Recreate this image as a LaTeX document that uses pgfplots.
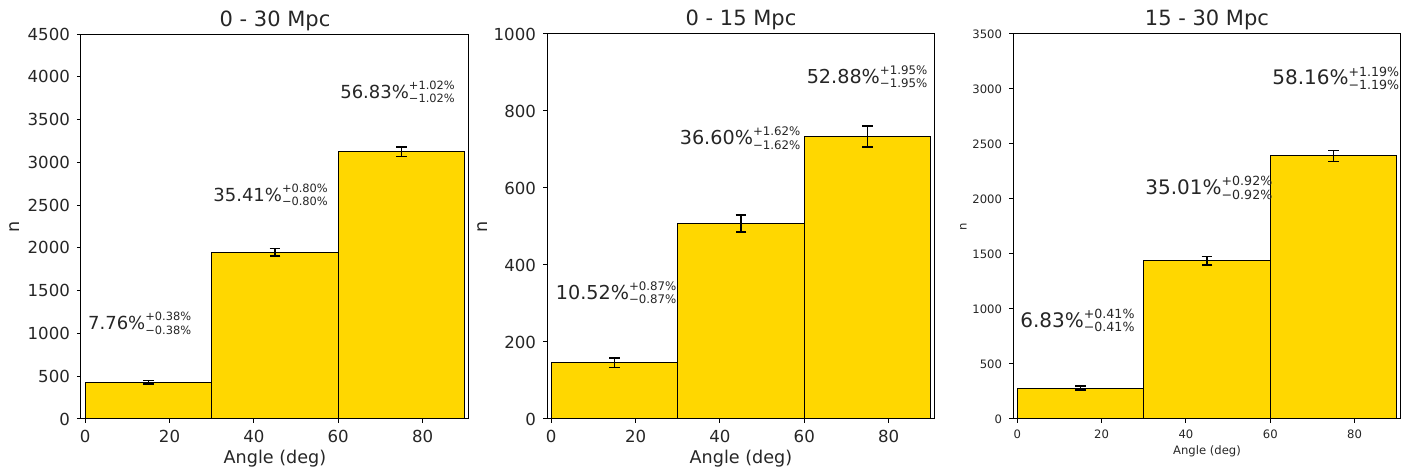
\documentclass[border=0pt]{standalone}
\usepackage{pgfplots}
\pgfplotsset{compat=1.18}
\usepackage{fontspec}
\setmainfont{DejaVu Sans}
\definecolor{gold}{HTML}{FFD700}
\definecolor{txt}{HTML}{262626}
\newcommand{\pct}[4]{{\fontsize{#1}{#1}\selectfont #3\%}\raisebox{1pt}{\fontsize{#2}{6.6}\selectfont\begin{tabular}[c]{@{}l@{}}+#4\%\\−#4\%\end{tabular}}}
\pgfplotsset{
  myax/.style={
    scale only axis, width=194pt, height=192.5pt,
    xmin=-1, xmax=91, ymin=0,
    axis line style={line width=0.5pt, black},
    tick align=outside, xtick pos=bottom, ytick pos=left,
    major tick length=2pt, tick style={line width=0.5pt, black},
    xtick={0,20,40,60,80},
    scaled y ticks=false,
    /pgf/number format/1000 sep={},
    /pgf/number format/assume math mode=true,
    title style={font=\fontsize{10.5}{12}\selectfont, text=txt, at={(0.5,1)}, anchor=base, yshift=-2pt},
    xlabel={Angle (deg)}, ylabel={n},
    every tick label/.append style={text=txt},
    every axis label/.append style={text=txt},
  },
  big/.style={
    tick label style={font=\fontsize{8.3}{9.6}\selectfont},
    label style={font=\fontsize{8.8}{10}\selectfont},
    xlabel style={yshift=3pt},
  },
  small/.style={
    tick label style={font=\fontsize{5.8}{7}\selectfont},
    label style={font=\fontsize{5.8}{7}\selectfont},
    xlabel style={yshift=3.5pt}, ylabel style={yshift=-4pt},
  },
  barst/.style={ybar interval, fill=gold, draw=black, line width=0.5pt},
  errst/.style={draw=none, mark=none, forget plot,
    error bars/.cd, y dir=both, y explicit,
    error bar style={line width=0.75pt, black},
    error mark options={rotate=90, mark size=2.7pt, line width=0.75pt, black}},
}
\begin{document}
\begin{tikzpicture}
\path[use as bounding box] (0,0) rectangle (705pt,235pt);
% Panel 1
\begin{axis}[myax, big, at={(40.5pt,25.5pt)}, anchor=south west,
  ylabel style={yshift=-3pt},
  title={0 - 30 Mpc}, ymax=4500, ytick={0,500,...,4500}]
\addplot[barst] coordinates {(0,427) (30,1947) (60,3125) (90,3125)};
\addplot[errst] coordinates {(15,427) +- (0,20.7) (45,1947) +- (0,44.1) (75,3125) +- (0,55.9)};
\node[anchor=west, inner sep=0, text=txt] at (axis cs:0.6,1101) {\pct{9}{5.7}{7.76}{0.38}};
\node[anchor=west, inner sep=0, text=txt] at (axis cs:30.3,2605) {\pct{9}{5.7}{35.41}{0.80}};
\node[anchor=west, inner sep=0, text=txt] at (axis cs:60.4,3810) {\pct{9}{5.7}{56.83}{1.02}};
\end{axis}
% Panel 2
\begin{axis}[myax, big, at={(273.5pt,25.5pt)}, anchor=south west,
  ylabel style={yshift=-4pt},
  title={0 - 15 Mpc}, ymax=1000, ytick={0,200,...,1000}]
\addplot[barst] coordinates {(0,146) (30,508) (60,734) (90,734)};
\addplot[errst] coordinates {(15,146) +- (0,12.1) (45,508) +- (0,22.5) (75,734) +- (0,27.1)};
\node[anchor=west, inner sep=0, text=txt] at (axis cs:1.0,323) {\pct{9.6}{5.9}{10.52}{0.87}};
\node[anchor=west, inner sep=0, text=txt] at (axis cs:30.4,725) {\pct{9.6}{5.9}{36.60}{1.62}};
\node[anchor=west, inner sep=0, text=txt] at (axis cs:60.5,885) {\pct{9.6}{5.9}{52.88}{1.95}};
\end{axis}
% Panel 3
\begin{axis}[myax, small, at={(506.5pt,25.5pt)}, anchor=south west,
  title={15 - 30 Mpc}, ymax=3500, ytick={0,500,...,3500}]
\addplot[barst] coordinates {(0,281) (30,1439) (60,2391) (90,2391)};
\addplot[errst] coordinates {(15,281) +- (0,16.8) (45,1439) +- (0,37.9) (75,2391) +- (0,48.9)};
\node[anchor=west, inner sep=0, text=txt] at (axis cs:0.65,877) {\pct{10}{6.3}{6.83}{0.41}};
\node[anchor=west, inner sep=0, text=txt] at (axis cs:30.3,2083) {\pct{10}{6.3}{35.01}{0.92}};
\node[anchor=west, inner sep=0, text=txt] at (axis cs:60.4,3082) {\pct{10}{6.3}{58.16}{1.19}};
\end{axis}
\end{tikzpicture}
\end{document}
